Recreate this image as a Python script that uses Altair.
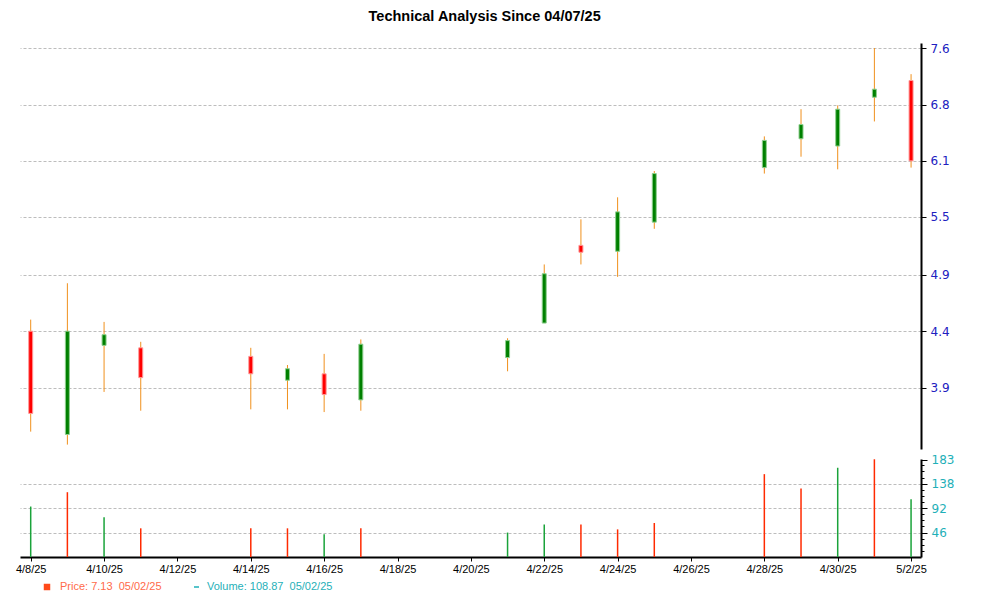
import altair as alt
import pandas as pd

# ---------------- data ----------------
DATES = ["2025-04-08", "2025-04-09", "2025-04-10", "2025-04-11", "2025-04-14",
         "2025-04-15", "2025-04-16", "2025-04-17", "2025-04-21", "2025-04-22",
         "2025-04-23", "2025-04-24", "2025-04-25", "2025-04-28", "2025-04-29",
         "2025-04-30", "2025-05-01", "2025-05-02"]
OPEN = [4.36, 3.56, 4.24, 4.22, 4.15, 3.96, 4.01, 3.81, 4.14, 4.43,
        5.16, 5.10, 5.40, 6.01, 6.36, 6.27, 6.90, 7.13]
HIGH = [4.46, 4.79, 4.44, 4.27, 4.22, 4.08, 4.17, 4.29, 4.30, 4.97,
        5.43, 5.67, 5.97, 6.39, 6.74, 6.79, 7.60, 7.22]
LOW = [3.58, 3.49, 3.87, 3.73, 3.74, 3.74, 3.72, 3.73, 4.03, 4.43,
       4.97, 4.85, 5.33, 5.94, 6.14, 5.99, 6.58, 6.01]
CLOSE = [3.71, 4.36, 4.33, 3.98, 4.01, 4.05, 3.85, 4.25, 4.28, 4.88,
         5.09, 5.51, 5.94, 6.34, 6.54, 6.74, 7.01, 6.09]
VOLUME = [95, 122, 75, 54, 54, 54, 43, 54, 46, 61,
          61, 52, 64, 156, 129, 168, 184, 108.87]
VOL_DIR = ["up", "down", "up", "down", "down", "down", "up", "down", "up", "up",
           "down", "down", "down", "down", "down", "up", "down", "up"]

PRICE_TICKS = [3.9, 4.36, 4.87, 5.46, 6.09, 6.80, 7.6]
VOL_MAJOR = [46, 92, 138, 183]
VOL_MINOR = [11.5, 23, 34.5, 57.5, 69, 80.5, 103.5, 115, 126.5, 149.5, 161, 172.5]
X_TICK_DAYS = [(4, 8), (4, 10), (4, 12), (4, 14), (4, 16), (4, 18), (4, 20),
               (4, 22), (4, 24), (4, 26), (4, 28), (4, 30), (5, 2)]

TITLE = "Technical Analysis Since 04/07/25"
LEGEND_PRICE = "Price: 7.13\u00a0 05/02/25"
LEGEND_VOLUME = "Volume: 108.87\u00a0 05/02/25"

# ---------------- styles ----------------
RED = "#ff0000"
GREEN = "#008000"
RED_EDGE = "#ff9a9a"
GREEN_EDGE = "#8fcf8f"
WICK = "#f0901c"
VOL_RED = "#ff2a00"
VOL_GREEN = "#1aa33a"
BLUE = "#2020c0"
TEAL = "#1fb0b8"
GRID = "#bdbdbd"

df = pd.DataFrame({
    "date": DATES, "open": OPEN, "high": HIGH, "low": LOW, "close": CLOSE,
    "volume": VOLUME, "vdir": VOL_DIR,
})
df["dir"] = ["up" if c >= o else "down" for o, c in zip(OPEN, CLOSE)]

W = 901
H_PRICE = 406
H_VOL = 98

x_domain = [alt.DateTime(year=2025, month=4, date=7, hours=17, minutes=0, utc=True),
            alt.DateTime(year=2025, month=5, date=2, hours=6, minutes=30, utc=True)]
x_scale = alt.Scale(type="utc", domain=x_domain, nice=False, padding=0)

x_axis = alt.Axis(
    values=[alt.DateTime(year=2025, month=m, date=d, utc=True) for m, d in X_TICK_DAYS],
    format="%-m/%-d/%y", title=None, grid=False,
    domainColor="black", domainWidth=2, tickColor="black", tickSize=4,
    labelFont="Liberation Sans", labelFontSize=11, labelColor="black",
    labelPadding=2, labelFlush=False,
)

price_scale = alt.Scale(type="log", domain=[3.46, 7.675], nice=False, zero=False)
price_axis = alt.Axis(
    orient="right", values=PRICE_TICKS, format=".1f", title=None,
    labelColor=BLUE, labelFont="DejaVu Sans", labelFontSize=12, labelPadding=4,
    domainColor="black", domainWidth=2, tickColor="black", tickSize=5,
    grid=True, gridColor=GRID, gridDash=[3, 2], gridWidth=1,
)

base = alt.Chart(df)

wicks = base.mark_rule(color=WICK, strokeWidth=1).encode(
    x=alt.X("date:T", scale=x_scale, axis=None),
    y=alt.Y("low:Q", scale=price_scale, axis=price_axis),
    y2="high:Q",
)
bodies = base.mark_bar(size=4, strokeWidth=1).encode(
    x=alt.X("date:T", scale=x_scale, axis=None),
    y=alt.Y("open:Q", scale=price_scale),
    y2="close:Q",
    fill=alt.Fill("dir:N", scale=alt.Scale(domain=["up", "down"], range=[GREEN, RED]), legend=None),
    stroke=alt.Stroke("dir:N", scale=alt.Scale(domain=["up", "down"], range=[GREEN_EDGE, RED_EDGE]), legend=None),
)
price = alt.layer(wicks, bodies).properties(width=W, height=H_PRICE)

is_major = "indexof([46, 92, 138, 183], datum.value) >= 0"
is_grid = "indexof([46, 92, 138], datum.value) >= 0"
vol_axis = alt.Axis(
    orient="right", values=VOL_MAJOR + VOL_MINOR, format=".0f", title=None,
    labelExpr=f"{is_major} ? datum.label : ''",
    labelColor=TEAL, labelFont="DejaVu Sans", labelFontSize=12, labelPadding=4,
    domainColor="black", domainWidth=2, tickColor="black",
    tickSize={"condition": {"test": is_major, "value": 6}, "value": 3},
    grid=True, gridColor=GRID, gridDash=[3, 2], gridWidth=1,
    gridOpacity={"condition": {"test": is_grid, "value": 1}, "value": 0},
)

vbars = base.mark_rule(strokeWidth=1.5).encode(
    x=alt.X("date:T", scale=x_scale, axis=x_axis),
    y=alt.Y("volume:Q", scale=alt.Scale(domain=[0, 184.5], nice=False), axis=vol_axis),
    y2=alt.datum(0),
    color=alt.Color("vdir:N", scale=alt.Scale(domain=["up", "down"], range=[VOL_GREEN, VOL_RED]), legend=None),
)

leg_df = pd.DataFrame({"p": [LEGEND_PRICE], "v": [LEGEND_VOLUME]})
leg_base = alt.Chart(leg_df)
leg_price_mark = leg_base.mark_square(size=42, color="#ff4a1a", opacity=1).encode(
    x=alt.value(27), y=alt.value(128))
leg_price_text = leg_base.mark_text(align="left", baseline="middle", font="Liberation Sans",
                                    fontSize=11, color="#ff6a4a").encode(
    x=alt.value(40), y=alt.value(128), text="p:N")
leg_vol_mark = leg_base.mark_rule(color=TEAL, strokeWidth=1.5).encode(
    x=alt.value(174), x2=alt.value(179), y=alt.value(128))
leg_vol_text = leg_base.mark_text(align="left", baseline="middle", font="Liberation Sans",
                                  fontSize=11, color=TEAL).encode(
    x=alt.value(187), y=alt.value(128), text="v:N")

volume = alt.layer(vbars, leg_price_mark, leg_price_text, leg_vol_mark, leg_vol_text).properties(
    width=W, height=H_VOL)

chart = alt.vconcat(price, volume, spacing=4).properties(
    title=alt.TitleParams(TITLE, font="Liberation Sans", fontSize=14.5, fontWeight="bold",
                          color="black", anchor="middle", offset=18),
    padding={"left": 7, "top": 0, "right": 5, "bottom": 0},
).configure_view(stroke=None, strokeWidth=0)

chart.save("out.html", embed_options={"renderer": "svg", "actions": False})
